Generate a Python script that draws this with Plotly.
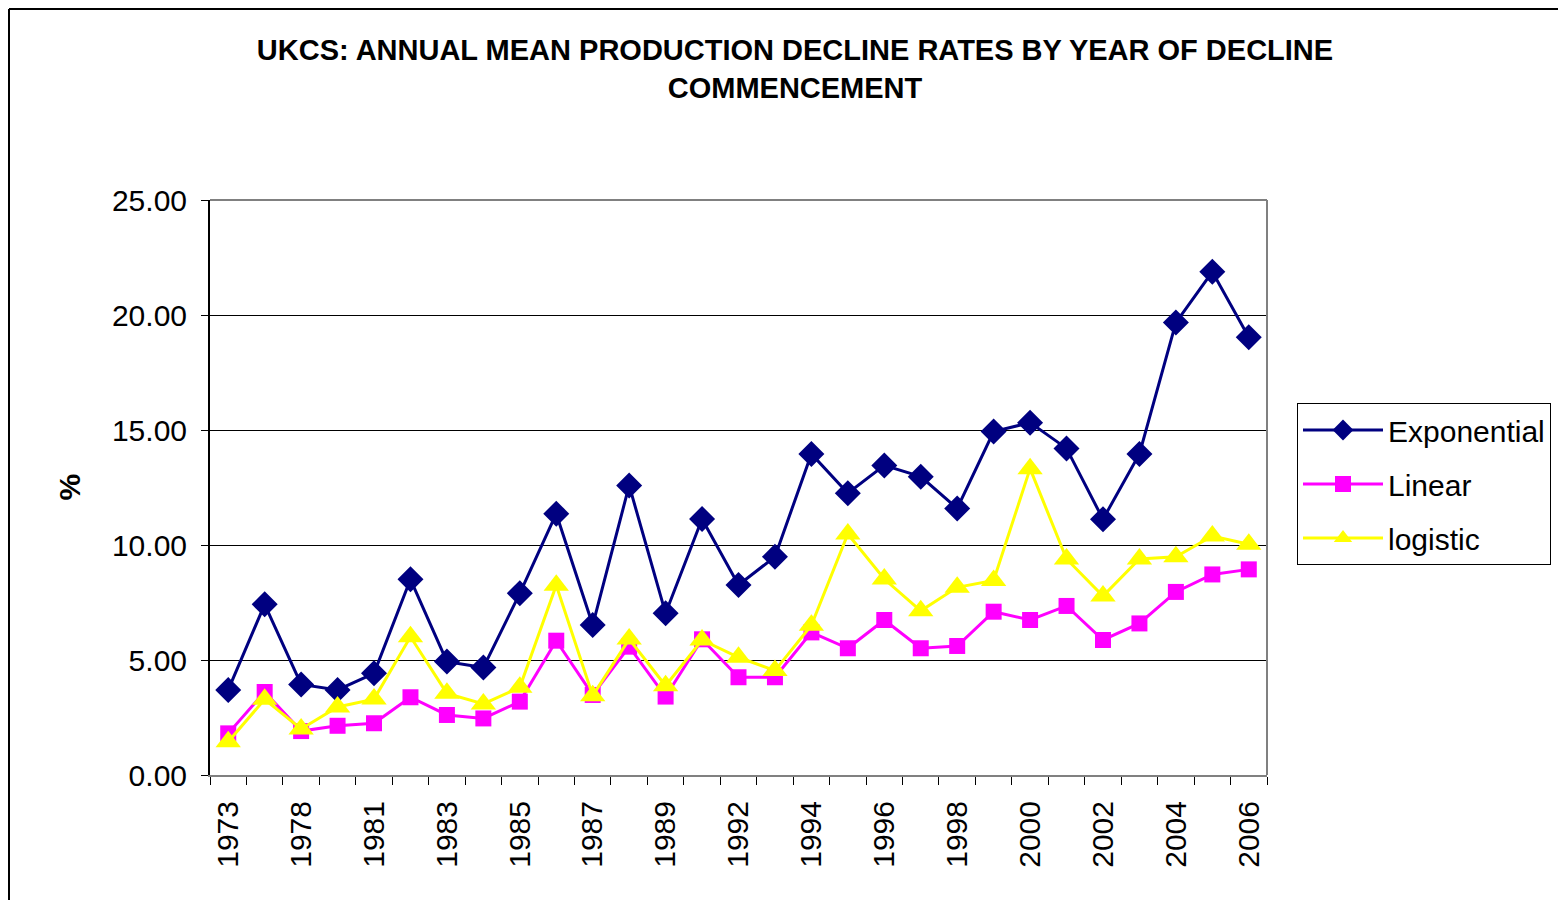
import plotly.graph_objects as go

years = ["1973", "1976", "1978", "1980", "1981", "1982", "1983", "1984", "1985", "1986",
         "1987", "1988", "1989", "1990", "1992", "1993", "1994", "1995", "1996", "1997",
         "1998", "1999", "2000", "2001", "2002", "2003", "2004", "2005", "2006"]
labelled_years = ["1973", "1978", "1981", "1983", "1985", "1987", "1989", "1992", "1994",
                  "1996", "1998", "2000", "2002", "2004", "2006"]

exponential = [3.70, 7.42, 3.94, 3.70, 4.42, 8.51, 4.93, 4.67, 7.90, 11.36,
               6.52, 12.59, 7.03, 11.13, 8.26, 9.49, 13.96, 12.25, 13.46, 12.97,
               11.59, 14.93, 15.32, 14.20, 11.12, 13.96, 19.67, 21.88, 19.03]
linear = [1.81, 3.61, 1.91, 2.14, 2.25, 3.38, 2.61, 2.46, 3.19, 5.84,
          3.48, 5.58, 3.41, 5.90, 4.25, 4.25, 6.20, 5.51, 6.74, 5.51,
          5.61, 7.10, 6.74, 7.35, 5.87, 6.59, 7.96, 8.72, 8.94]
logistic = [1.45, 3.29, 2.00, 2.96, 3.30, 6.01, 3.55, 3.09, 3.81, 8.25,
            3.45, 5.91, 3.88, 5.87, 5.12, 4.54, 6.51, 10.48, 8.52, 7.14,
            8.16, 8.46, 13.32, 9.39, 7.78, 9.39, 9.49, 10.39, 10.03]

yticks = [0, 5, 10, 15, 20, 25]

x = list(range(len(years)))
tickvals = [years.index(y) for y in labelled_years]

FONT = "Liberation Sans, Arial, sans-serif"

fig = go.Figure()
fig.add_trace(go.Scatter(x=x, y=exponential, name="Exponential", mode="lines+markers",
                         line=dict(color="#000080", width=3),
                         marker=dict(symbol="diamond", size=20, color="#000080"),
                         legendgroup="a"))
fig.add_trace(go.Scatter(x=x, y=linear, name="Linear", mode="lines+markers",
                         line=dict(color="#FF00FF", width=3),
                         marker=dict(symbol="square", size=16, color="#FF00FF"),
                         legendgroup="b"))
fig.add_trace(go.Scatter(x=x, y=logistic, name="logistic", mode="lines+markers",
                         line=dict(color="#FFFF00", width=3),
                         marker=dict(symbol="triangle-up", size=22, color="#FFFF00"),
                         legendgroup="c"))

# the page body has an 8px margin: work in screen pixels and shift by it
OFF = 8
W, H = 1566 - OFF, 900 - OFF
L, R, T, B = 210 - OFF, 1267 - OFF, 200 - OFF, 775 - OFF


def px(v):
    return (v - OFF - L) / (R - L)


def py(v):
    return (B - (v - OFF)) / (B - T)


fig.update_layout(
    width=W, height=H,
    margin=dict(l=L, r=W - R, t=T, b=H - B),
    paper_bgcolor="white", plot_bgcolor="white",
    font=dict(family=FONT, color="black", size=30),
    title=dict(text="<b>UKCS: ANNUAL MEAN PRODUCTION DECLINE RATES BY YEAR OF DECLINE<br>COMMENCEMENT</b>",
               x=(795 - OFF) / W, xanchor="center", y=1 - (60 - OFF) / H, yanchor="middle",
               xref="container", yref="container",
               font=dict(family=FONT, size=29, color="black")),
    xaxis=dict(range=[-0.5, len(years) - 0.5], tickmode="array", tickvals=tickvals,
               ticktext=labelled_years, tickangle=-90, ticks="", showgrid=False,
               zeroline=False, showline=True, linecolor="#808080", linewidth=2,
               tickfont=dict(size=30, family=FONT), ticklabelstandoff=12,
               minor=dict(ticks="outside", tick0=-0.5, dtick=1, ticklen=8,
                          tickcolor="black", tickwidth=1, showgrid=False)),
    yaxis=dict(range=[0, 25], tickmode="array", tickvals=yticks,
               ticktext=[f"{v:.2f}" for v in yticks],
               ticks="outside", ticklen=7, tickcolor="black",
               showgrid=True, gridcolor="black", gridwidth=1, zeroline=False,
               showline=True, linecolor="black", linewidth=2,
               tickfont=dict(size=30, family=FONT), ticklabelstandoff=8),
    legend=dict(x=px(1297), y=py(403), xanchor="left", yanchor="top",
                bordercolor="black", borderwidth=1, bgcolor="white",
                font=dict(size=30, family=FONT), tracegroupgap=12,
                itemwidth=80),
    showlegend=True,
)

fig.add_annotation(text="<b>%</b>", x=px(50), y=py(487), xref="paper", yref="paper",
                   showarrow=False, textangle=-90, font=dict(size=30, family=FONT))

# plot area frame (grey) on top and right
fig.add_shape(type="line", xref="paper", yref="paper", x0=0, x1=1, y0=1, y1=1,
              line=dict(color="#808080", width=2))
fig.add_shape(type="line", xref="paper", yref="paper", x0=1, x1=1, y0=0, y1=1,
              line=dict(color="#808080", width=2))

# outer chart border (left and top)
fig.add_shape(type="line", xref="paper", yref="paper", x0=px(9), x1=px(9),
              y0=py(905), y1=py(9), line=dict(color="black", width=2))
fig.add_shape(type="line", xref="paper", yref="paper", x0=px(9), x1=px(1575),
              y0=py(9), y1=py(9), line=dict(color="black", width=2))

fig.write_html("out.html")
